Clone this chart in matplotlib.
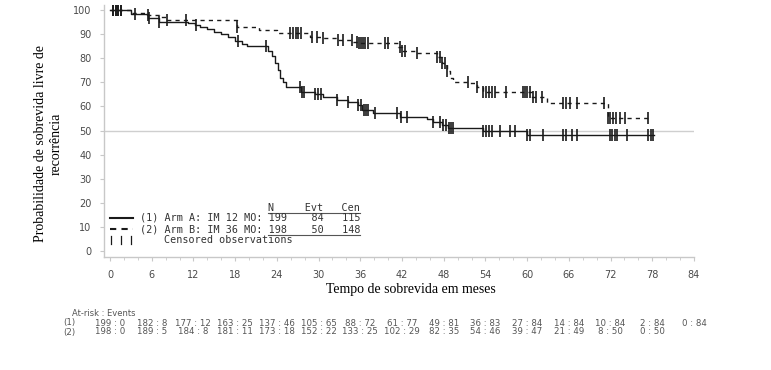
import numpy as np
import matplotlib
matplotlib.use("Agg")
import matplotlib.pyplot as plt
from matplotlib.transforms import blended_transform_factory

# Kaplan-Meier step points
times_a = [0, 3, 5.5, 7, 11.2, 12.2, 13, 14, 15, 16, 17, 18, 19, 19.7, 22.8, 23.3, 23.7,
           24.1, 24.5, 24.9, 25.3, 27.5, 29.5, 30.7, 32.6, 34.3, 35.7, 36.2, 37.8, 41.7,
           45.6, 46.5, 47.8, 48.6, 53.6, 60, 78.3]
surv_a = [100, 98.5, 96.5, 95, 94.5, 93.8, 93, 92, 91, 90, 89, 87, 86, 85, 83, 81, 78,
          75, 72, 70, 68, 66, 65, 64, 62.7, 62, 60.6, 58.5, 57.4, 55.7,
          54.8, 53.7, 52.3, 51.2, 49.8, 48, 48]

times_b = [0, 3, 5.3, 7, 8.2, 18.2, 21.5, 24, 28.8, 30.7, 32.6, 35, 35.7, 41.4, 42, 44.2,
           47, 47.8, 48.5, 48.9, 49.4, 51.8, 52.8, 53.7, 60.7, 62.8, 71.6, 77.8]
surv_b = [100, 98.6, 98, 97.2, 96, 93, 91.7, 90.3, 89, 88.2, 87.6, 86.9, 86.2, 84.8, 83, 82,
          80.6, 78, 74.5, 71.6, 70.3, 69.6, 68.2, 66, 64, 61.3, 55, 55]

censor_a = [0.4, 0.8, 1.2, 1.6, 3.6, 5.6, 7, 12.4, 18.4, 22.5, 27.3, 27.6, 27.9, 29.5, 29.9,
            30.3, 32.6, 34.3, 35.7, 36.1, 36.5, 36.8, 37.1, 38.1, 41.3, 41.8, 42.7, 46.5,
            47.5, 47.9, 48.3, 48.7, 49.1, 49.4, 53.7, 54.1, 54.5, 55, 56.1, 57.5, 58.3, 60,
            60.4, 62.3, 65.2, 65.6, 66.5, 67.2, 71.9, 72.2, 72.6, 72.9, 74.4, 77.4, 77.8, 78.1]
censor_b = [0.4, 0.8, 1.2, 1.6, 5.5, 8.2, 11, 18.2, 25.9, 26.3, 26.7, 27.1, 27.5, 29, 29.8,
            30.7, 32.8, 33.5, 34.8, 35.5, 35.8, 36.1, 36.4, 36.7, 37.1, 39.6, 40, 41.7, 42,
            42.4, 44.2, 47, 47.4, 47.8, 48.2, 48.5, 51.5, 52.8, 53.7, 54.1, 54.5, 55, 55.4,
            57, 59.4, 59.7, 60, 60.4, 60.8, 61.3, 62.1, 65.2, 65.6, 66.1, 67.2, 71, 71.6,
            71.9, 72.4, 72.8, 73.3, 74.1, 77.4]

xticks = list(range(0, 85, 6))
atrisk_1 = ["199 : 0", "182 : 8", "177 : 12", "163 : 25", "137 : 46", "105 : 65", "88 : 72",
            "61 : 77", "49 : 81", "36 : 83", "27 : 84", "14 : 84", "10 : 84", "2 : 84", "0 : 84"]
atrisk_2 = ["198 : 0", "189 : 5", "184 : 8", "181 : 11", "173 : 18", "152 : 22", "133 : 25",
            "102 : 29", "82 : 35", "54 : 46", "39 : 47", "21 : 49", "8 : 50", "0 : 50"]

W, H = 771, 370
fig = plt.figure(figsize=(W / 100, H / 100), dpi=100)
ax = fig.add_axes([104 / W, 1 - 257 / H, 590 / W, 252 / H])


def px(x, y):
    return x / W, 1 - y / H


def surv_at(times, surv, t):
    i = np.searchsorted(times, t, side="right") - 1
    return np.array(surv)[i]


ink = "#1a1a1a"
ax.axhline(50, color="#cfcfcf", lw=1, zorder=1)
ax.step(times_a, surv_a, where="post", color=ink, lw=1.0, zorder=3)
ax.step(times_b, surv_b, where="post", color=ink, lw=1.0, ls=(0, (3, 3)), zorder=3)
ax.plot(censor_a, surv_at(times_a, surv_a, censor_a), ls="none", marker="|",
        ms=8, mew=1.2, color=ink, zorder=4)
ax.plot(censor_b, surv_at(times_b, surv_b, censor_b), ls="none", marker="|",
        ms=8, mew=1.2, color=ink, zorder=4)

ax.set_xlim(-0.86, 84.0)
ax.set_ylim(-2.5, 102.1)
ax.set_xticks(xticks)
ax.set_xticks(range(0, 85, 2), minor=True)
ax.set_yticks(range(0, 101, 10))
for s in ["top", "right"]:
    ax.spines[s].set_visible(False)
for s in ["left", "bottom"]:
    ax.spines[s].set_color("#c8c8c8")
    ax.spines[s].set_linewidth(1)
ax.tick_params(axis="both", which="major", length=3, width=0.8, color="#c8c8c8",
               labelsize=7, labelcolor="#4a4a4a", pad=6)
ax.tick_params(axis="x", which="minor", length=2, width=0.6, color="#c8c8c8")

serif = "Liberation Serif"
fig.text(*px(48, 144), "Probabilidade de sobrevida livre de\nrecorrência", rotation=90,
         ha="center", va="center", fontsize=10, family=serif, linespacing=1.25)
fig.text(*px(411, 289), "Tempo de sobrevida em meses", ha="center", va="center",
         fontsize=10, family=serif)

# legend block
mono = "DejaVu Sans Mono"
lc = "#333333"
fs = 7.3
fig.text(*px(268, 208), "N     Evt   Cen", ha="left", va="center", family=mono, fontsize=fs, color=lc)
fig.text(*px(140, 218), "(1) Arm A: IM 12 MO: 199    84   115", ha="left", va="center",
         family=mono, fontsize=fs, color=lc)
fig.text(*px(140, 229), "(2) Arm B: IM 36 MO: 198    50   148", ha="left", va="center",
         family=mono, fontsize=fs, color=lc)
fig.text(*px(164, 240), "Censored observations", ha="left", va="center",
         family=mono, fontsize=fs, color=lc)
for yy in (212.5, 235):
    fig.add_artist(plt.Line2D([268 / W, 360 / W], [1 - yy / H] * 2, color="#555555", lw=0.8))
fig.add_artist(plt.Line2D([110 / W, 133 / W], [1 - 218 / H] * 2, color=ink, lw=1.5))
fig.add_artist(plt.Line2D([110 / W, 133 / W], [1 - 229 / H] * 2, color=ink, lw=1.5,
                          ls=(0, (3, 2.5))))
for xx in (111, 121, 131):
    fig.add_artist(plt.Line2D([xx / W] * 2, [1 - 236 / H, 1 - 244 / H], color=ink, lw=0.9))

# at-risk table
tr = blended_transform_factory(ax.transData, fig.transFigure)
rc = "#555555"
fig.text(*px(72, 313), "At-risk : Events", ha="left", va="center", fontsize=6, color=rc)
fig.text(*px(63, 323), "(1)", ha="left", va="center", fontsize=6.2, color=rc)
fig.text(*px(63, 332), "(2)", ha="left", va="center", fontsize=6.2, color=rc)
for t, s in zip(xticks, atrisk_1):
    fig.text(t, 1 - 323 / H, s, transform=tr, ha="center", va="center", fontsize=6.2, color=rc)
for t, s in zip(xticks, atrisk_2):
    fig.text(t, 1 - 332 / H, s, transform=tr, ha="center", va="center", fontsize=6.2, color=rc)

fig.savefig("out.png", dpi=100, facecolor="white")
